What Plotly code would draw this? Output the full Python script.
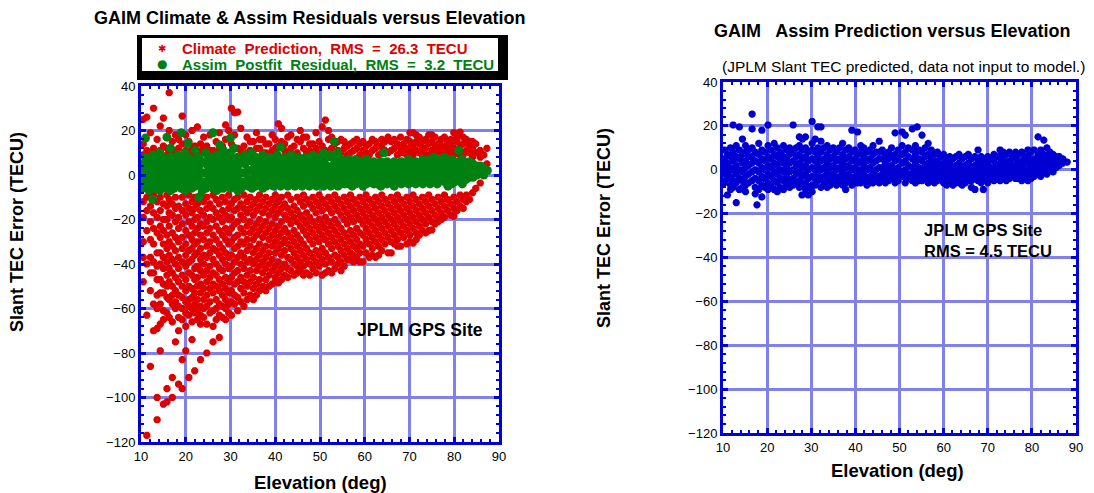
import plotly.graph_objects as go

W, H = 1094, 493

# ---------------- data ----------------
# Climate prediction error, columns of (elevation, [TEC errors])
climate_columns = [
    (10.5, [25, 14, 9, -12, -19, -30, -37, -48]),
    (11.3, [26, 11, -10, -16, -25, -40, -63, -117]),
    (12.1, [19, 10, -14, -21, -29, -37, -44, -52, -86]),
    (12.8, [30, 12, -9, -17, -24, -31, -39, -44, -58, -70]),
    (13.6, [16, 10, -12, -19, -26, -35, -41, -47, -54, -60, -69, -100, -110]),
    (14.3, [22, 11, -10, -16, -23, -28, -35, -40, -47, -53, -58, -67, -79]),
    (15.0, [25.6, 13, -13, -20, -25, -31, -37, -42, -49, -53, -61, -65, -103]),
    (15.8, [12, 9, -9, -14, -20, -27, -33, -39, -45, -50, -55, -62, -96, -102]),
    (16.3, [37, 20, -11, -17, -23, -30, -36, -42, -48, -56, -64]),
    (17.0, [15, 10, -13, -18, -26, -32, -38, -44, -50, -54, -58, -66, -91, -100]),
    (17.7, [18, 11, -10, -15, -21, -28, -34, -40, -46, -52, -57, -60, -75]),
    (18.4, [16, 12, -14, -19, -24, -30, -37, -42, -48, -54, -59, -64, -70, -94]),
    (19.2, [26.5, 14, -10, -16, -22, -28, -33, -39, -45, -50, -55, -60, -65, -83, -96]),
    (20.0, [18, 11, -13, -18, -25, -31, -36, -41, -47, -52, -57, -62, -68, -79]),
    (20.7, [15, 10, -9, -15, -21, -27, -34, -39, -44, -50, -56, -59, -63, -91]),
    (21.4, [20, 12, -12, -17, -23, -29, -33, -38, -45, -51, -55, -60, -66, -74]),
    (22.0, [13, 9, -10, -15, -20, -26, -31, -36, -42, -47, -53, -58, -62, -88]),
    (22.6, [21.6, 11, -13, -19, -24, -30, -35, -41, -46, -50, -56, -61, -65]),
    (23.3, [14, 10, -9, -16, -22, -27, -33, -38, -43, -49, -53, -59, -63, -67, -83]),
    (24.0, [17, 12, -12, -18, -23, -29, -36, -40, -45, -51, -56, -60, -64]),
    (24.7, [13, 9, -10, -15, -21, -26, -32, -37, -43, -48, -54, -59, -67, -80]),
    (25.4, [18, 11, -13, -19, -24, -30, -35, -41, -46, -51, -57, -62]),
    (26.1, [11, -9, -15, -20, -27, -33, -38, -44, -49, -53, -61, -68, -75]),
    (26.8, [15, 10, -11, -17, -23, -29, -34, -40, -45, -50, -56, -60, -65]),
    (27.5, [19, 12, -13, -19, -25, -31, -36, -42, -47, -52, -58, -63, -73]),
    (28.2, [13, 9, -10, -16, -21, -27, -33, -38, -43, -49, -54, -59, -64]),
    (28.9, [22.5, 16, -12, -18, -24, -29, -35, -40, -46, -51, -56, -60, -65]),
    (29.6, [20, 10, -9, -15, -20, -26, -31, -37, -42, -48, -53, -58, -62]),
    (30.2, [30, 14, -13, -19, -24, -30, -36, -41, -46, -52, -57, -63]),
    (30.9, [28, 18, -11, -16, -22, -28, -33, -39, -44, -49, -54, -58]),
    (31.6, [28.3, 12, -10, -15, -21, -27, -32, -37, -43, -48, -55, -61]),
    (32.3, [21, 11, -13, -18, -24, -30, -35, -40, -46, -51, -57]),
    (33.0, [13, 9, -9, -15, -20, -26, -31, -37, -42, -48, -53, -59]),
    (33.7, [17, 10, -12, -17, -23, -29, -34, -39, -45, -50, -56]),
    (34.4, [11, 15, -10, -15, -21, -26, -32, -38, -43, -48, -54]),
    (35.1, [15, 9, -13, -18, -24, -29, -35, -40, -46, -51, -56]),
    (35.8, [19, 12, -11, -16, -22, -27, -33, -38, -43, -49, -54]),
    (36.5, [12, 16, -9, -14, -20, -25, -31, -36, -41, -47, -52]),
    (37.2, [16, 10, -12, -17, -23, -28, -34, -39, -44, -50]),
    (37.9, [10, 14, -10, -15, -21, -26, -32, -37, -42, -47, -52]),
    (38.6, [14, 9, -13, -18, -24, -29, -35, -40, -45, -50]),
    (39.3, [18, 11, -11, -16, -22, -27, -32, -38, -43, -49]),
    (40.0, [12, 16, -9, -14, -19, -25, -30, -35, -41, -46, -48]),
    (40.7, [23, 13, -12, -17, -23, -28, -33, -39, -44, -48.5]),
    (41.4, [21, 15, -10, -15, -21, -26, -31, -36, -42, -47]),
    (42.1, [11, 14, -13, -18, -24, -29, -34, -40, -45]),
    (42.8, [17, 10, -9, -15, -20, -26, -31, -37, -42, -46]),
    (43.5, [18, 12, -11, -17, -22, -28, -33, -38, -43]),
    (44.2, [13, 9, -14, -19, -25, -30, -35, -40, -45]),
    (44.9, [10, 16, -10, -16, -21, -27, -32, -37, -41, -44]),
    (45.6, [20, 15, -12, -18, -23, -29, -34, -39, -43]),
    (46.3, [12, 17, -9, -14, -20, -25, -31, -36, -41, -45]),
    (47.0, [17, 10, -11, -17, -22, -27, -33, -38, -44]),
    (47.7, [11, 14, -13, -19, -24, -29, -35, -40, -45]),
    (48.4, [14, 9, -10, -15, -21, -26, -31, -37, -42]),
    (49.1, [19, 12, -12, -17, -23, -28, -34, -39, -44]),
    (49.8, [10, 15, -9, -14, -20, -25, -30, -36, -41]),
    (50.5, [21.6, 13, -11, -16, -22, -27, -33, -38, -45]),
    (51.2, [24.7, 11, -13, -19, -24, -29, -35, -40, -44]),
    (51.9, [20, 16, -10, -15, -21, -26, -31, -37, -43]),
    (52.6, [12, 17, -12, -17, -23, -28, -33, -39, -44]),
    (53.3, [14, 9, -9, -14, -20, -25, -30, -36, -42]),
    (54.0, [11, 15, -11, -16, -22, -27, -32, -37, -40]),
    (54.7, [16, 10, -13, -18, -24, -29, -34, -39, -43]),
    (55.4, [12, 15, -10, -15, -20, -26, -31, -36, -41]),
    (56.1, [13, 9, -12, -17, -22, -28, -33, -38]),
    (56.8, [10, 14, -9, -14, -19, -25, -30, -35, -38]),
    (57.5, [15, 11, -11, -16, -21, -27, -32, -36, -39]),
    (58.2, [12, 16, -13, -18, -24, -29, -33, -37]),
    (58.9, [14, 9, -10, -15, -20, -26, -31, -35, -39]),
    (59.6, [11, 15, -12, -17, -22, -27, -32, -39]),
    (60.3, [10, 13, -9, -14, -19, -24, -29, -35]),
    (61.0, [14, 9, -11, -16, -21, -26, -31, -37]),
    (61.7, [11, 16, -13, -18, -23, -28, -33, -36]),
    (62.4, [12, 15, -10, -15, -20, -25, -30, -37]),
    (63.1, [9, 13, -12, -17, -22, -27, -32, -36]),
    (63.8, [13, 10, 16, -9, -14, -19, -24, -29, -34]),
    (64.5, [11, 15, -11, -16, -21, -26, -31]),
    (65.2, [10, 17, -13, -18, -23, -28, -35]),
    (65.9, [15, 11, -10, -15, -20, -25, -30, -35]),
    (66.6, [12, 16, -12, -17, -22, -27, -31]),
    (67.3, [9, 14, -9, -14, -19, -24, -29, -32]),
    (68.0, [12, 10, 17, -11, -16, -21, -26, -32]),
    (68.7, [14, 10, -13, -18, -23, -28]),
    (69.4, [12, 16, 9, -10, -15, -20, -25, -31]),
    (70.1, [19, 11, 15, -12, -17, -22, -27, -30]),
    (70.8, [19, 13, 9, -9, -14, -19, -24, -30.6]),
    (71.5, [18, 11, 15, -11, -16, -21, -26, -29]),
    (72.2, [10, 14, 17, -13, -18, -23, -27]),
    (72.9, [15, 12, 9, -10, -15, -20, -25]),
    (73.6, [12, 16, 9, -12, -17, -22, -26]),
    (74.3, [14, 9, 18, -9, -14, -19, -25]),
    (75.0, [11, 15, 18, -11, -16, -21, -24.7]),
    (75.7, [13, 9, 17, -13, -18, -22]),
    (76.4, [11, 14, -10, -15, -19, -21]),
    (77.1, [16, 10, 13, -12, -17, -20]),
    (77.8, [13, 17, 10, -9, -14, -19]),
    (78.5, [12, 9, 15, -11, -16]),
    (79.2, [10, 14, 16, -13, -18]),
    (79.9, [19, 12, 9, -10, -15, -18.5]),
    (80.6, [11, 15, 17, -12, -16]),
    (81.3, [19.3, 13, 9, -9, -14]),
    (82.0, [14, 9, 17, -11, -15]),
    (82.7, [11, 16, -9, -12]),
    (83.4, [15, 10, 13, -11]),
    (84.1, [12, 15, 8, -8]),
    (84.8, [10, 14, -6]),
    (85.8, [11, 8, -3.6]),
    (86.6, [9, 4]),
    (87.3, [12, 5]),
]

# Assimilation post-fit residuals
assim_columns = [
    (10.3, [5, 1, -3, -6]),
    (11.0, [16.6, 8, 3, -1, -5]),
    (11.8, [6, 2, -2, -7]),
    (12.6, [9, 4, 0, -4, -11]),
    (13.4, [7, 2, -2, -6]),
    (14.2, [10, 5, 1, -3, -7]),
    (15.0, [8, 3, -1, -5]),
    (15.8, [17, 6, 2, -2, -6]),
    (16.6, [12, 8, 4, 0, -4, -7]),
    (17.4, [6, 1, -3, -6]),
    (18.2, [9, 4, 0, -4]),
    (19.0, [19, 7, 2, -2, -6]),
    (19.8, [10, 5, 1, -3, -7]),
    (20.5, [14.4, 8, 3, -1, -5]),
    (21.3, [6, 2, -2, -6]),
    (22.1, [11, 7, 3, -1, -5]),
    (22.9, [8, 4, 0, -4, -10]),
    (23.7, [6, 1, -3, -7]),
    (24.5, [10, 5, 1, -3, -6]),
    (25.3, [8, 3, -1, -5]),
    (26.1, [19, 6, 2, -2, -6]),
    (26.9, [9, 4, 0, -4, -7]),
    (27.6, [13.5, 7, 2, -2, -6]),
    (28.4, [11, 5, 1, -3, -6]),
    (29.2, [8, 3, -1, -5]),
    (30.0, [16.6, 10, 6, 2, -2, -6]),
    (30.8, [12, 7, 3, -1, -5]),
    (31.6, [8, 4, 0, -4, -7]),
    (32.4, [6, 1, -3, -6]),
    (33.2, [9, 5, 1, -3]),
    (34.0, [7, 2, -2, -5]),
    (34.8, [10, 6, 2, -2, -6]),
    (35.6, [8, 3, -1, -5]),
    (36.4, [7, 4, 0, -4]),
    (37.2, [9, 5, 1, -3, -6]),
    (38.0, [6, 2, -2, -5]),
    (38.8, [8, 4, 0, -4]),
    (39.6, [7, 3, -1, -5]),
    (40.4, [9, 5, 1, -3]),
    (41.2, [12.6, 6, 2, -2, -5]),
    (42.0, [8, 4, 0, -4]),
    (42.8, [7, 3, -1, -5]),
    (43.6, [9, 5, 1, -3]),
    (44.4, [6, 2, -2, -5]),
    (45.2, [8, 4, 0, -4]),
    (46.0, [7, 3, -1, -5]),
    (46.8, [8, 5, 1, -3]),
    (47.6, [6, 2, -2, -5]),
    (48.4, [9, 4, 0, -4]),
    (49.2, [7, 3, -1, -5]),
    (50.0, [8, 5, 1, -3]),
    (50.8, [10, 6, 2, -2, -5]),
    (51.6, [8, 4, 0, -4]),
    (52.4, [9, 3, -1, -5]),
    (53.2, [15, 7, 5, 1, -3]),
    (54.0, [10, 6, 2, -2, -5]),
    (54.8, [7, 4, 0, -4]),
    (55.6, [6, 3, -1, -4]),
    (56.4, [7, 4, 0, -4]),
    (57.2, [6, 2, -2, -5]),
    (58.0, [7, 3, -1, -4]),
    (58.8, [5, 1, -3]),
    (59.6, [6, 2, -2, -5]),
    (60.4, [7, 3, -1, -4]),
    (61.2, [5, 1, -3]),
    (62.0, [6, 2, -2, -4]),
    (62.8, [4, 0, -4]),
    (63.6, [6, 2, -2, -5]),
    (64.3, [10, 5, 1, -3]),
    (65.0, [6, 2, -2, -4]),
    (65.8, [4, 0, -3]),
    (66.6, [6, 2, -2, -5]),
    (67.4, [5, 1, -3]),
    (68.2, [6, 2, -2, -4]),
    (69.0, [5, 1, -3]),
    (69.8, [7, 3, -1, -4]),
    (70.6, [5, 1, -3]),
    (71.4, [6, 2, -2, -4]),
    (72.2, [5, 1, -3]),
    (73.0, [7, 3, -1, -4]),
    (73.8, [6, 2, -2]),
    (74.6, [7, 3, -1, -4]),
    (75.4, [8, 4, 0, -3]),
    (76.2, [6, 2, -2, -4]),
    (77.0, [7, 3, -1]),
    (77.8, [8, 4, 0, -3]),
    (78.6, [6, 2, -2, -5]),
    (79.4, [7, 3, -1, -4]),
    (80.2, [5, 1, -3]),
    (81.0, [11, 6, 2, -2]),
    (81.8, [7, 3, -1, -4]),
    (82.6, [5, 1, -2]),
    (83.4, [6, 2, -1]),
    (84.2, [5, 1, -1]),
    (85.0, [4, 0]),
    (85.8, [4, 1]),
    (86.6, [3, 0]),
    (87.4, [2]),
]

# Assimilation prediction error at JPLM (right panel)
predict_columns = [
    (10.3, [9, 5, 2, -2, -6]),
    (11.0, [7, 3, -1, -4, -11.5]),
    (11.7, [10, 6, 1, -3, -7, -9]),
    (12.3, [20.4, 8, 4, 0, -5, -8]),
    (13.0, [11, 6, 2, -2, -6, -15]),
    (13.7, [19.5, 9, 5, 0, -4, -9]),
    (14.4, [14, 7, 3, -1, -5, -8]),
    (15.1, [11, 8, 4, 1, -3, -7, -10]),
    (15.8, [9, 6, 2, -2, -6]),
    (16.6, [25.4, 18.6, 10, 6, 3, -1, -5]),
    (17.3, [8, 4, 0, -4, -8, -11]),
    (17.7, [-16]),
    (18.1, [12, 7, 3, -1, -5, -9]),
    (18.8, [18, 9, 5, 1, -3, -7, -12.4]),
    (19.5, [8, 4, 0, -4, -8]),
    (20.2, [20.4, 11, 6, 2, -2, -6, -9]),
    (20.9, [9, 5, 1, -3, -7]),
    (21.6, [12, 7, 3, -1, -5, -9]),
    (22.3, [10, 6, 2, -2, -6, -10]),
    (23.0, [8, 4, 0, -4, -8]),
    (23.7, [11, 6, 3, -1, -5, -9]),
    (24.4, [9, 5, 1, -3, -7]),
    (25.1, [10, 7, 3, -1, -5, -8]),
    (25.9, [20.4, 8, 4, 0, -4, -7]),
    (26.6, [10, 6, 2, -2, -6]),
    (27.3, [15, 11, 7, 3, -1, -5, -8]),
    (27.9, [-11.5]),
    (28.0, [14, 9, 5, 1, -3, -7]),
    (28.7, [15, 10, 6, 2, -2, -6, -9]),
    (29.3, [8, 4, 0, -4, -8, -11.5]),
    (30.2, [22, 12, 9, 5, 1, -3, -7, -10]),
    (30.9, [14, 8, 4, 0, -4, -7]),
    (31.5, [19.5, 10, 6, 2, -2, -5]),
    (32.2, [19.5, 13, 8, 4, 0, -4, -8]),
    (32.9, [10, 5, 1, -3, -6]),
    (33.6, [11, 7, 3, -1, -5, -8]),
    (34.3, [9, 5, 1, -3, -7]),
    (35.0, [10, 6, 2, -2, -5]),
    (35.7, [8, 4, 0, -4, -7]),
    (36.4, [10, 5, 1, -3, -6]),
    (37.1, [12, 7, 3, -1, -5, -7]),
    (37.8, [9, 5, 1, -3, -6, -9]),
    (38.5, [10, 6, 2, -2, -5]),
    (39.2, [18, 8, 4, 0, -4, -7]),
    (39.9, [9, 5, 1, -3, -6]),
    (40.5, [17.2, 7, 3, -1, -4, -6]),
    (41.2, [11, 8, 4, 0, -3, -6]),
    (41.9, [10, 6, 2, -2, -5]),
    (42.6, [8, 4, 0, -4, -7]),
    (43.3, [9, 5, 1, -3, -6]),
    (44.0, [11, 7, 3, -1, -4, -6]),
    (44.7, [8, 4, 0, -3, -5]),
    (45.4, [13, 8, 5, 1, -3, -6]),
    (46.1, [9, 5, 1, -2, -5]),
    (46.8, [7, 3, -1, -4, -6]),
    (47.5, [8, 5, 1, -2, -5]),
    (48.2, [10, 6, 2, -1, -4]),
    (49.0, [16.8, 7, 4, 0, -3, -6]),
    (49.7, [9, 5, 1, -2, -5]),
    (50.6, [17.2, 11, 7, 3, -1, -3]),
    (51.3, [15.8, 8, 4, 0, -3, -6]),
    (52.0, [10, 6, 2, -2, -4]),
    (52.9, [18.6, 9, 5, 1, -2, -5]),
    (53.6, [11, 7, 3, -1, -4, -6]),
    (54.0, [19.5]),
    (54.4, [9, 5, 1, -2, -5]),
    (55.1, [15.8, 8, 4, 0, -3, -5]),
    (55.8, [10, 6, 2, -1, -4]),
    (56.5, [12, 7, 3, 0, -3, -6]),
    (57.2, [9, 5, 1, -2, -5]),
    (57.9, [7, 3, 0, -3, -6]),
    (58.6, [8, 4, 1, -2, -5]),
    (59.3, [6, 2, -1, -4]),
    (60.0, [7, 3, 0, -3, -6]),
    (60.7, [5, 2, -1, -4, -7]),
    (61.4, [6, 3, 0, -3, -6]),
    (62.1, [5, 1, -2, -5, -7]),
    (62.8, [6, 2, -1, -4, -6]),
    (63.5, [7, 3, 0, -3, -6]),
    (64.2, [5, 1, -2, -5, -7]),
    (64.9, [6, 2, -1, -4, -6]),
    (65.6, [7, 3, 0, -3, -5]),
    (66.3, [5, 1, -2, -5, -8]),
    (67.1, [6, 2, -1, -4, -9]),
    (67.8, [9, 4, 1, -2, -5]),
    (68.5, [6, 3, 0, -3, -6]),
    (69.0, [-9]),
    (69.3, [5, 2, -1, -4]),
    (70.0, [6, 3, 0, -3, -6]),
    (70.7, [5, 1, -2, -4]),
    (71.4, [7, 4, 1, -2, -5]),
    (72.1, [6, 2, -1, -3]),
    (72.8, [9, 6, 3, 0, -3, -5]),
    (73.5, [8, 5, 2, -1, -4]),
    (74.2, [7, 3, 0, -2, -5]),
    (74.9, [8, 4, 1, -2, -4]),
    (75.6, [6, 2, -1, -3]),
    (76.3, [8, 5, 2, -1, -4]),
    (77.0, [7, 3, 0, -2, -4]),
    (77.7, [8, 4, 1, -2, -5]),
    (78.4, [6, 3, 0, -3]),
    (79.1, [9, 6, 3, 0, -3, -5]),
    (79.8, [8, 4, 1, -2, -4]),
    (80.5, [9, 5, 2, -1, -3]),
    (81.4, [15, 7, 3, 0, -2]),
    (82.0, [9, 5, 2, -1, -3]),
    (82.7, [13.5, 7, 4, 1, -1]),
    (83.4, [10, 6, 3, 0, -2]),
    (84.1, [8, 5, 2, 0]),
    (84.8, [7, 4, 1, -1]),
    (85.5, [6, 3, 1]),
    (86.2, [6, 4, 2]),
    (87.0, [5, 3]),
    (88.0, [3.5]),
]

x_ticks = [10, 20, 30, 40, 50, 60, 70, 80, 90]
y_ticks = [-120, -100, -80, -60, -40, -20, 0, 20, 40]

climate_label = "Climate  Prediction,  RMS  =  26.3  TECU"
assim_label = "Assim  Postfit  Residual,  RMS  =  3.2  TECU"


def flatten(cols):
    xs = [e for e, vs in cols for _ in vs]
    ys = [v for _, vs in cols for v in vs]
    return xs, ys


climate_elev, climate_tec = flatten(climate_columns)
assim_elev, assim_tec = flatten(assim_columns)
predict_elev, predict_tec = flatten(predict_columns)

RED = "rgb(222,0,0)"
GREEN = "rgb(0,128,16)"
BLUE = "rgb(0,0,210)"
GRID = "rgb(128,128,238)"
BORDER = "rgb(0,0,220)"
FONT = "Liberation Sans, Arial, sans-serif"


def px(x):
    return x / W


def py(y):
    return 1 - y / H


fig = go.Figure()
fig.add_trace(go.Scatter(
    x=climate_elev, y=climate_tec, mode="markers", xaxis="x", yaxis="y",
    marker=dict(symbol="asterisk", size=6, color=RED, line=dict(color=RED, width=2.6)),
    showlegend=False))
fig.add_trace(go.Scatter(
    x=assim_elev, y=assim_tec, mode="markers", xaxis="x", yaxis="y",
    marker=dict(symbol="circle", size=9, color=GREEN, line=dict(width=0)),
    showlegend=False))
fig.add_trace(go.Scatter(
    x=predict_elev, y=predict_tec, mode="markers", xaxis="x2", yaxis="y2",
    marker=dict(symbol="asterisk", size=6, color=BLUE, line=dict(color=BLUE, width=2.4)),
    showlegend=False))

tickfont = dict(family=FONT, size=13, color="black")


def xaxis(domain, anchor):
    return dict(domain=domain, anchor=anchor, range=[10, 90], tickvals=x_ticks,
                showgrid=True, gridcolor=GRID, gridwidth=3, zeroline=False,
                showline=True, linecolor=BORDER, linewidth=3, mirror="allticks",
                ticks="inside", ticklen=5, tickwidth=3, tickcolor=BORDER,
                minor=dict(dtick=2, tick0=10, ticks="inside", ticklen=3, tickwidth=2,
                           tickcolor=BORDER, showgrid=False),
                tickfont=tickfont, automargin=False)


def yaxis(domain, anchor):
    return dict(domain=domain, anchor=anchor, range=[-120, 40], tickvals=y_ticks,
                showgrid=True, gridcolor=GRID, gridwidth=3, zeroline=False,
                showline=True, linecolor=BORDER, linewidth=3, mirror="allticks",
                ticks="inside", ticklen=5, tickwidth=3, tickcolor=BORDER,
                minor=dict(dtick=4, tick0=0, ticks="inside", ticklen=3, tickwidth=2,
                           tickcolor=BORDER, showgrid=False),
                tickfont=tickfont, automargin=False)


def bold(s):
    return "<b>" + s + "</b>"


annotations = [
    dict(x=px(309), y=py(18), text=bold("GAIM Climate & Assim Residuals versus Elevation"),
         font=dict(family=FONT, size=18, color="black")),
    dict(x=px(892), y=py(31), text=bold("GAIM   Assim Prediction versus Elevation"),
         font=dict(family=FONT, size=18, color="black")),
    dict(x=px(903), y=py(67), text="(JPLM Slant TEC predicted, data not input to model.)",
         font=dict(family=FONT, size=15.5, color="black")),
    dict(x=px(180), y=py(48), xanchor="left", text=bold(climate_label),
         font=dict(family=FONT, size=15, color=RED)),
    dict(x=px(180), y=py(64), xanchor="left", text=bold(assim_label),
         font=dict(family=FONT, size=15, color=GREEN)),
    dict(x=px(162), y=py(48), text=bold("\u2731"), font=dict(family="DejaVu Sans", size=10, color=RED)),
    dict(x=px(162), y=py(64), text="\u25CF", font=dict(family="DejaVu Sans", size=12, color=GREEN)),
    dict(x=px(420), y=py(330), text=bold("JPLM GPS Site"),
         font=dict(family=FONT, size=17.5, color="black")),
    dict(x=px(922), y=py(240), xanchor="left", align="left",
         text=bold("JPLM GPS Site<br>RMS = 4.5 TECU"),
         font=dict(family=FONT, size=16.5, color="black")),
    dict(x=px(17), y=py(232), text=bold("Slant TEC Error (TECU)"), textangle=-90,
         font=dict(family=FONT, size=18, color="black")),
    dict(x=px(604), y=py(228), text=bold("Slant TEC Error (TECU)"), textangle=-90,
         font=dict(family=FONT, size=18, color="black")),
    dict(x=px(320), y=py(482), text=bold("Elevation (deg)"),
         font=dict(family=FONT, size=18.5, color="black")),
    dict(x=px(897), y=py(470), text=bold("Elevation (deg)"),
         font=dict(family=FONT, size=18.5, color="black")),
]
for a in annotations:
    a.update(xref="paper", yref="paper", showarrow=False)
    a.setdefault("xanchor", "center")
    a.setdefault("yanchor", "middle")

shapes = [
    dict(type="rect", xref="paper", yref="paper", x0=px(137), x1=px(508), y0=py(80), y1=py(35),
         fillcolor="black", line=dict(width=0), layer="above"),
    dict(type="rect", xref="paper", yref="paper", x0=px(142), x1=px(498), y0=py(71), y1=py(38),
         fillcolor="white", line=dict(width=0), layer="above"),
]

fig.update_layout(
    width=W, height=H, autosize=False,
    margin=dict(l=0, r=0, t=0, b=0, pad=0, autoexpand=False),
    paper_bgcolor="white", plot_bgcolor="white",
    xaxis=xaxis([px(141), px(499)], "y"),
    yaxis=yaxis([py(442), py(86)], "x"),
    xaxis2=xaxis([px(723), px(1076)], "y2"),
    yaxis2=yaxis([py(433), py(82)], "x2"),
    annotations=annotations,
    shapes=shapes,
    showlegend=False,
)

fig.write_html("out.html", post_script="document.body.style.margin='0';")
